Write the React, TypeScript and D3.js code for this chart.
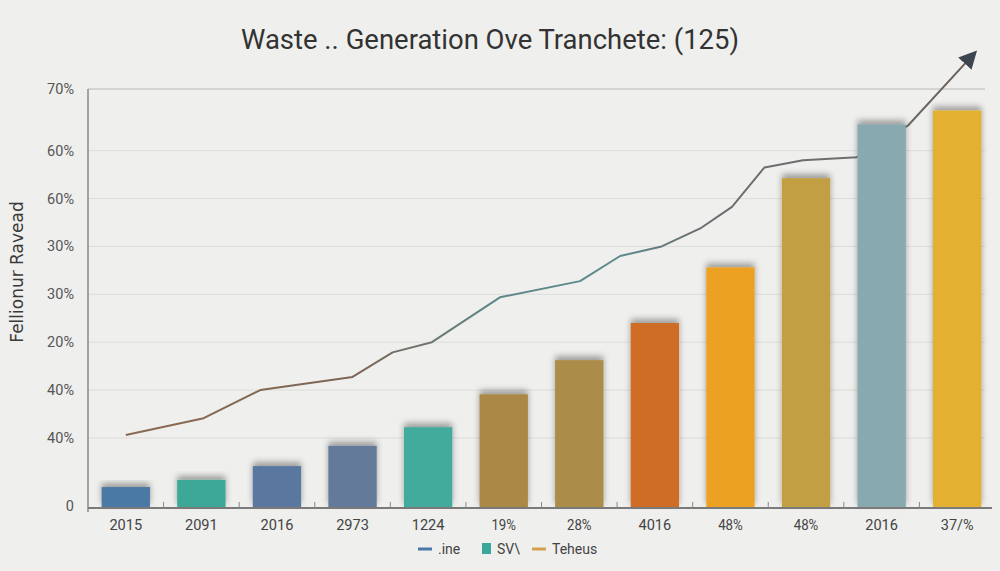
import React, { useEffect, useRef } from 'react';
import * as d3 from 'd3';

// Chart data
const categories = ['2015', '2091', '2016', '2973', '1224', '19%', '28%', '4016', '48%', '48%', '2016', '37/%'];
const barValues = [3.5, 4.7, 7.0, 10.4, 13.5, 19.0, 24.7, 30.9, 40.2, 55.1, 64.1, 66.4];
const barColors = ['#4c79a5', '#3da897', '#5a77a0', '#637a9a', '#42ab9c', '#a98944', '#ab8d48', '#cf6c28', '#eda124', '#c19f42', '#89a9b0', '#e3b032'];

// trend line: position in category units, value in axis units
const linePos = [0, 1.03, 1.78, 3.0, 3.53, 4.05, 4.95, 6.01, 6.54, 7.09, 7.6, 8.02, 8.45, 8.96, 9.67, 10.35, 11.23];
const lineVals = [12.2, 15.0, 19.7, 21.9, 26.0, 27.7, 35.2, 37.9, 42.1, 43.7, 46.7, 50.3, 56.9, 58.1, 58.6, 63.9, 76.0];

const yTickValues = [0, 11.7, 19.7, 27.7, 35.7, 43.7, 51.7, 59.7, 70];
const yTickLabels = ['0', '40%', '40%', '20%', '30%', '30%', '60%', '60%', '70%'];

const legendItems = [
  { label: '.ine', color: '#4a78a8', kind: 'line' },
  { label: 'SV\\', color: '#3aa898', kind: 'box' },
  { label: 'Teheus', color: '#d4a050', kind: 'line' },
];

const title = 'Waste .. Generation Ove Tranchete: (125)';
const yTitle = 'Fellionur Ravead';

const W = 1000, H = 571;
const margin = { top: 89, right: 15, bottom: 63, left: 88 };

export default function App() {
  const ref = useRef<SVGSVGElement | null>(null);

  useEffect(() => {
    if (!ref.current) return;
    const svg = d3.select(ref.current);
    svg.selectAll('*').remove();

    const plotRight = W - margin.right;
    const baseY = H - margin.bottom;

    const x = d3.scaleBand<string>().domain(categories.map((_, i) => String(i))).range([margin.left, 995]).paddingInner(0.36).paddingOuter(0.18);
    const step = x.step();
    const xc = (p: number) => (x('0') as number) + x.bandwidth() / 2 + p * step;
    const y = d3.scaleLinear().domain([0, 70]).range([baseY, margin.top]);

    const defs = svg.append('defs');
    const shadow = defs.append('filter').attr('id', 'barShadow').attr('x', '-30%').attr('y', '-30%').attr('width', '160%').attr('height', '160%');
    shadow.append('feGaussianBlur').attr('in', 'SourceAlpha').attr('stdDeviation', 3).attr('result', 'blur');
    shadow.append('feOffset').attr('in', 'blur').attr('dy', -4).attr('result', 'off');
    shadow.append('feComponentTransfer').attr('in', 'off').attr('result', 'sh')
      .append('feFuncA').attr('type', 'linear').attr('slope', 0.35);
    const merge = shadow.append('feMerge');
    merge.append('feMergeNode').attr('in', 'sh');
    merge.append('feMergeNode').attr('in', 'SourceGraphic');

    const grad = defs.append('linearGradient').attr('id', 'lineGrad').attr('gradientUnits', 'userSpaceOnUse')
      .attr('x1', margin.left).attr('x2', plotRight).attr('y1', 0).attr('y2', 0);
    [[0, '#8f6b50'], [0.3, '#7d6656'], [0.45, '#5f8688'], [0.6, '#5f8a8c'], [0.68, '#6a6e70'], [0.85, '#6e6e6e'], [1, '#6b5f55']]
      .forEach(([o, c]) => grad.append('stop').attr('offset', o as number).attr('stop-color', c as string));

    const marker = defs.append('marker').attr('id', 'arrow').attr('viewBox', '0 0 10 10').attr('refX', 8).attr('refY', 5)
      .attr('markerWidth', 9).attr('markerHeight', 9).attr('markerUnits', 'strokeWidth').attr('orient', 'auto');
    marker.append('path').attr('d', 'M0,0 L10,5 L0,10 Z').attr('fill', '#3d4650');

    // background
    svg.append('rect').attr('width', W).attr('height', H).attr('fill', '#efefed');

    // title
    svg.append('text').attr('x', 490).attr('y', 49).attr('text-anchor', 'middle')
      .attr('font-family', 'Roboto, sans-serif').attr('font-size', 28).attr('fill', '#333')
      .attr('textLength', 498).attr('lengthAdjust', 'spacingAndGlyphs').text(title);

    // grid
    svg.append('g').selectAll('line').data(yTickValues.filter(v => v > 0)).join('line')
      .attr('x1', margin.left).attr('x2', plotRight)
      .attr('y1', d => y(d)).attr('y2', d => y(d))
      .attr('stroke', (d, i, arr) => (i === arr.length - 1 ? '#b9b9b9' : '#dcdcda')).attr('stroke-width', 1);

    // y labels
    svg.append('g').selectAll('text').data(yTickValues).join('text')
      .attr('x', 74).attr('y', d => (d === 0 ? y(d) - 2 : y(d)) + 5).attr('text-anchor', 'end')
      .attr('font-family', 'Roboto, sans-serif').attr('font-size', 14.5).attr('fill', '#555')
      .text((_, i) => yTickLabels[i]);

    svg.append('text').attr('transform', `translate(23,272) rotate(-90)`).attr('text-anchor', 'middle')
      .attr('font-family', 'DejaVu Sans, sans-serif').attr('font-size', 17).attr('fill', '#3a3a3a').text(yTitle);

    // trend line (behind bars)
    const line = d3.line<number>().x((_, i) => xc(linePos[i])).y(d => y(d)).curve(d3.curveLinear);
    svg.append('path').datum(lineVals).attr('d', line).attr('fill', 'none')
      .attr('stroke', 'url(#lineGrad)').attr('stroke-width', 2).attr('stroke-linejoin', 'round')
      .attr('marker-end', 'url(#arrow)');

    // bars
    svg.append('g').selectAll('rect').data(barValues).join('rect')
      .attr('x', (_, i) => x(String(i)) as number).attr('width', x.bandwidth())
      .attr('y', d => y(d)).attr('height', d => y(0) - y(d))
      .attr('fill', (_, i) => barColors[i]).attr('filter', 'url(#barShadow)');

    // axes lines
    svg.append('line').attr('x1', margin.left).attr('x2', margin.left).attr('y1', margin.top).attr('y2', baseY + 4)
      .attr('stroke', '#8a8a8a').attr('stroke-width', 1.5);
    svg.append('line').attr('x1', margin.left).attr('x2', 992).attr('y1', baseY).attr('y2', baseY)
      .attr('stroke', '#7a7a7a').attr('stroke-width', 2);
    svg.append('g').selectAll('line').data(categories.slice(1)).join('line')
      .attr('x1', (_, i) => (x(String(i + 1)) as number) - (step - x.bandwidth()) / 2)
      .attr('x2', (_, i) => (x(String(i + 1)) as number) - (step - x.bandwidth()) / 2)
      .attr('y1', baseY - 6).attr('y2', baseY).attr('stroke', '#888').attr('stroke-width', 1);

    // x labels
    svg.append('g').selectAll('text').data(categories).join('text')
      .attr('x', (_, i) => xc(i)).attr('y', baseY + 22).attr('text-anchor', 'middle')
      .attr('font-family', 'Roboto, sans-serif').attr('font-size', 14).attr('fill', '#444')
      .attr('textLength', d => d.length * 8.2).attr('lengthAdjust', 'spacingAndGlyphs')
      .text(d => d);

    // legend
    const lg = svg.append('g').attr('font-family', 'Roboto, sans-serif').attr('font-size', 14).attr('fill', '#444');
    const lx = [418, 482, 532];
    legendItems.forEach((it, i) => {
      if (it.kind === 'line') {
        lg.append('line').attr('x1', lx[i]).attr('x2', lx[i] + 14).attr('y1', 549).attr('y2', 549)
          .attr('stroke', it.color).attr('stroke-width', 3);
        lg.append('text').attr('x', lx[i] + 20).attr('y', 554).text(it.label);
      } else {
        lg.append('rect').attr('x', lx[i]).attr('y', 543).attr('width', 9).attr('height', 11).attr('fill', it.color);
        lg.append('text').attr('x', lx[i] + 15).attr('y', 554).text(it.label);
      }
    });
  }, []);

  return (
    <svg ref={ref} width={W} height={H} viewBox={`0 0 ${W} ${H}`}
      style={{ position: 'absolute', left: 0, top: 0, display: 'block' }} />
  );
}
